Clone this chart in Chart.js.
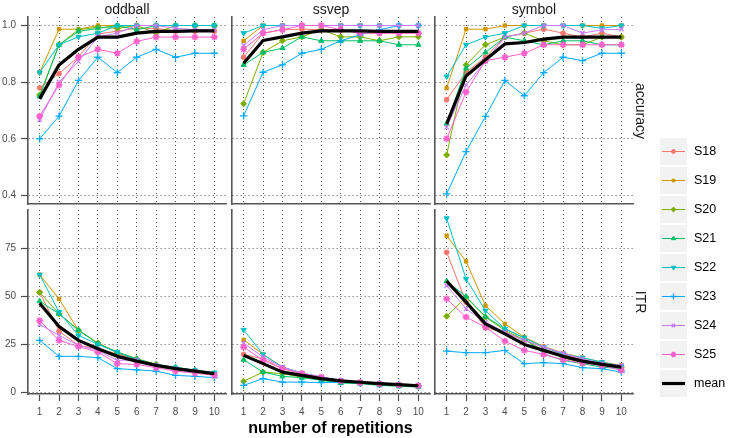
<!DOCTYPE html>
<html><head><meta charset="utf-8">
<script src="https://cdn.jsdelivr.net/npm/chart.js@4"></script>
<style>
body{margin:0;width:745px;height:438px;background:#fff;position:relative;overflow:hidden;font-family:"Liberation Sans",Arial,sans-serif;}
canvas.panel{position:absolute;}
.strip{position:absolute;font-size:14px;color:#1a1a1a;white-space:nowrap;}
.rstrip{position:absolute;font-size:14px;color:#1a1a1a;white-space:nowrap;transform:translate(-50%,-50%) rotate(90deg);}
#xtitle{position:absolute;font-size:16px;font-weight:bold;color:#000;white-space:nowrap;transform:translateX(-50%);}
.lg{position:absolute;width:27px;height:27px;background:#f2f2f2;}
.lgt{position:absolute;font-size:12.5px;color:#000;transform:translateY(-50%);}
</style></head><body>
<script>
// ---------------- data ----------------
const reps = [1,2,3,4,5,6,7,8,9,10];
const xTickLabels = ['1','2','3','4','5','6','7','8','9','10'];
const subjects = ['S18','S19','S20','S21','S22','S23','S24','S25'];
const paradigms = ['oddball','ssvep','symbol'];
const metrics = ['accuracy','ITR'];
const accuracyTicks = [0.4,0.6,0.8,1.0];
const itrTicks = [0,25,50,75];

// accuracy, one row per subject (S18..S25)
const oddballAccuracy = [
  [0.78,0.83,0.89,0.97,0.98,0.99,0.99,0.98,0.98,0.98],
  [0.834,0.987,0.987,1.0,1.0,1.0,1.0,1.0,1.0,1.0],
  [0.755,0.932,0.985,0.994,0.99,1.0,0.973,1.0,1.0,1.0],
  [0.75,0.932,0.979,0.99,1.0,0.985,1.0,1.0,1.0,1.0],
  [0.834,0.932,0.96,0.973,1.0,1.0,1.0,1.0,1.0,1.0],
  [0.60,0.68,0.806,0.888,0.834,0.888,0.916,0.888,0.902,0.902],
  [0.667,0.80,0.873,0.96,0.973,1.0,1.0,0.99,0.985,0.985],
  [0.68,0.79,0.888,0.916,0.902,0.944,0.959,0.959,0.959,0.959]
];
const oddballAccuracyMean = [0.741,0.861,0.916,0.959,0.959,0.973,0.979,0.979,0.981,0.981];

const ssvepAccuracy = [
  [0.888,0.973,0.985,0.987,0.985,0.985,0.973,0.973,0.973,0.973],
  [0.946,1.0,1.0,1.0,1.0,1.0,1.0,1.0,1.0,1.0],
  [0.724,0.905,0.946,0.96,0.985,0.96,0.96,0.946,0.96,0.96],
  [0.861,0.905,0.92,0.96,0.946,0.946,0.946,0.946,0.932,0.932],
  [0.973,1.0,1.0,1.0,1.0,1.0,1.0,1.0,1.0,1.0],
  [0.681,0.835,0.861,0.902,0.916,0.946,0.967,0.985,1.0,1.0],
  [0.93,0.985,1.0,1.0,1.0,1.0,1.0,1.0,1.0,1.0],
  [0.916,0.973,0.985,1.0,1.0,0.985,0.973,0.973,0.973,0.973]
];
const ssvepAccuracyMean = [0.867,0.947,0.96,0.973,0.981,0.981,0.981,0.979,0.979,0.979];

const symbolAccuracy = [
  [0.738,0.835,0.888,0.959,0.973,0.987,0.973,0.959,0.973,0.959],
  [0.779,0.987,0.987,1.0,1.0,1.0,1.0,1.0,1.0,1.0],
  [0.543,0.861,0.932,0.959,0.973,0.946,0.932,0.932,0.959,0.959],
  [0.653,0.849,0.905,0.959,0.946,0.932,0.946,0.946,0.932,0.932],
  [0.82,0.932,0.959,0.973,1.0,1.0,1.0,1.0,0.99,1.0],
  [0.406,0.555,0.679,0.806,0.752,0.834,0.888,0.876,0.902,0.902],
  [0.641,0.79,0.873,0.959,0.973,1.0,1.0,0.973,0.985,0.987],
  [0.60,0.765,0.876,0.888,0.902,0.932,0.932,0.932,0.932,0.932]
];
const symbolAccuracyMean = [0.653,0.822,0.879,0.935,0.94,0.952,0.959,0.959,0.959,0.959];

// ITR, one row per subject (S18..S25)
const oddballITR = [
  [52.2,32.0,24.6,22.8,20.2,17.1,14.7,12.5,11.2,9.9],
  [61.4,48.8,32.4,25.8,21.1,17.6,14.7,12.5,11.2,9.9],
  [52.2,41.0,32.4,25.8,20.6,17.6,14.2,12.5,11.6,10.0],
  [47.6,41.0,32.7,25.4,21.1,17.6,14.7,13.3,11.6,10.0],
  [61.4,41.9,29.8,25.1,21.1,17.1,14.2,13.0,11.6,10.4],
  [27.2,18.9,18.9,18.2,12.5,11.9,11.2,9.0,8.5,7.8],
  [35.5,29.8,24.6,22.0,16.8,17.1,14.2,12.5,11.2,9.5],
  [37.5,27.2,24.0,21.1,15.1,14.7,13.0,11.2,10.2,9.0]
];
const oddballITRMean = [46.5,34.4,27.2,22.8,18.9,16.4,14.2,12.5,11.2,9.9];

const ssvepITR = [
  [19.9,17.6,12.5,9.9,7.8,6.1,5.2,4.5,4.0,3.6],
  [27.5,19.9,13.3,10.2,8.1,6.4,5.5,4.7,4.2,3.8],
  [5.9,10.7,9.9,8.1,7.3,5.5,5.0,4.2,3.8,3.3],
  [17.1,10.7,8.5,7.8,6.4,5.0,4.7,3.8,3.3,2.9],
  [32.7,19.9,13.3,10.2,8.1,6.4,5.5,4.7,4.2,3.8],
  [3.8,7.3,5.5,5.5,5.2,5.5,5.0,4.7,4.2,3.6],
  [25.8,18.5,13.3,10.2,8.1,6.4,5.5,4.7,4.2,3.8],
  [23.7,16.8,12.5,9.9,8.1,6.1,5.2,4.5,4.0,3.6]
];
const ssvepITRMean = [19.4,15.1,10.7,9.0,7.3,6.1,5.4,4.7,4.2,3.6];

const symbolITR = [
  [73.0,47.1,33.7,31.5,27.2,23.7,19.9,17.1,15.1,13.3],
  [81.7,68.3,45.3,35.8,28.9,24.0,20.6,18.2,15.9,14.2],
  [39.8,49.7,39.3,32.4,27.5,22.0,18.2,15.4,14.7,13.3],
  [58.0,50.0,39.6,33.2,28.5,20.2,16.8,15.1,13.3,12.5],
  [90.7,59.2,42.7,33.2,28.5,23.7,20.2,18.2,15.9,13.8],
  [21.6,20.8,20.8,22.0,15.1,15.6,15.1,13.0,12.5,10.7],
  [55.7,43.6,36.7,31.5,27.2,23.7,20.6,17.6,15.1,14.2],
  [48.8,39.3,34.1,26.8,22.0,19.9,17.1,15.4,14.2,11.6]
];
const symbolITRMean = [58.0,47.1,35.8,30.6,25.1,22.0,18.9,16.4,14.7,13.3];

// ---------------- styles ----------------
const colors = ['#F8766D','#CD9600','#7CAE00','#00BE67','#00BFC4','#00A9FF','#C77CFF','#FF61CC'];
const shapes = ['circle','rect','rectRot','triangle','triangle','cross','crossRot','star'];
const rotations = [0,0,0,0,180,0,0,0];
const radii = [2.4,2.4,3.0,3.0,3.0,3.6,3.0,3.4];
const borderW = [1,1,1,1,1,1.3,1.3,1.6];

const colLeft = [28,232,435], colRight = [226,430,633];
const rowTop = [17,210], rowBottom = [204,394];
const M = 14;
const tickFont = {family:'"Liberation Sans", Arial, sans-serif', size:10};
const tickColor = '#4d4d4d';

const panelData = {
  oddball:{accuracy:[oddballAccuracy,oddballAccuracyMean], ITR:[oddballITR,oddballITRMean]},
  ssvep:{accuracy:[ssvepAccuracy,ssvepAccuracyMean], ITR:[ssvepITR,ssvepITRMean]},
  symbol:{accuracy:[symbolAccuracy,symbolAccuracyMean], ITR:[symbolITR,symbolITRMean]}
};

function addDiv(cls, text, css){
  const d=document.createElement('div'); d.className=cls; d.textContent=text;
  Object.assign(d.style, css); document.body.appendChild(d); return d;
}

metrics.forEach((metric,r)=>{
  paradigms.forEach((par,c)=>{
    const [subs, mean] = panelData[par][metric];
    const yAxisW = c===0 ? 28 : 0;
    const xAxisH = r===1 ? 26 : 0;
    const left = colLeft[c]-yAxisW-M;
    const top = rowTop[r]-M;
    const width = M + yAxisW + (colRight[c]-colLeft[c]) + M;
    const height = M + (rowBottom[r]-rowTop[r]) + xAxisH + M;
    const cv=document.createElement('canvas');
    cv.className='panel';
    cv.style.left=left+'px'; cv.style.top=top+'px';
    cv.style.width=width+'px'; cv.style.height=height+'px';
    cv.width=width; cv.height=height;
    document.body.appendChild(cv);

    const datasets = subjects.map((s,i)=>({
      label:s,
      data: reps.map((x,j)=>({x:x,y:subs[i][j]})),
      borderColor:colors[i], backgroundColor:colors[i],
      borderWidth:1, pointStyle:shapes[i], pointRadius:radii[i],
      pointRotation:rotations[i], pointBorderWidth:borderW[i],
      pointBorderColor:colors[i], pointBackgroundColor:colors[i],
      order: 8-i, tension:0
    }));
    datasets.push({label:'mean', data: reps.map((x,j)=>({x:x,y:mean[j]})),
      borderColor:'#000', borderWidth:3.2, pointRadius:0, order:-1, tension:0,
      borderJoinStyle:'round', borderCapStyle:'butt'});

    const isAcc = r===0;
    const yTicks = isAcc ? accuracyTicks : itrTicks;
    new Chart(cv,{
      type:'line',
      data:{datasets},
      options:{
        responsive:false, animation:false, devicePixelRatio:1,
        layout:{padding:{left:M,right:M,top:M,bottom:M}},
        plugins:{legend:{display:false}, tooltip:{enabled:false}},
        scales:{
          x:{type:'linear', min:0.4, max:10.6,
            afterBuildTicks:s=>{s.ticks = reps.map(v=>({value:v}));},
            afterFit:s=>{s.height = xAxisH;},
            ticks:{display:r===1, font:tickFont, color:tickColor, padding:5, maxRotation:0, autoSkip:false,
              callback:(v)=>xTickLabels[reps.indexOf(v)]},
            grid:{color:'rgba(0,0,0,0.85)', lineWidth:0.8, drawTicks:r===1, tickLength:7,
              tickColor:'#4d4d4d', tickWidth:1.2, tickBorderDash:[]},
            border:{display:true, color:'#555', width:1.6, dash:[1,3]}
          },
          y:{type:'linear', min: isAcc?0.37:-0.7, max: isAcc?1.03:95.05,
            afterBuildTicks:s=>{s.ticks = yTicks.map(v=>({value:v}));},
            afterFit:s=>{s.width = yAxisW;},
            ticks:{display:c===0, font:tickFont, color:tickColor, padding:5,
              callback:(v)=> isAcc ? v.toFixed(1) : String(v)},
            grid:{color:'rgba(0,0,0,0.85)', lineWidth:0.8, drawTicks:c===0, tickLength:7,
              tickColor:'#4d4d4d', tickWidth:1.2, tickBorderDash:[]},
            border:{display:true, color:'#555', width:1.6, dash:[1,3]}
          }
        }
      }
    });
  });
});

// strip labels
paradigms.forEach((p,c)=>{
  const d=addDiv('strip',p,{top:'1px'});
  d.style.left=((colLeft[c]+colRight[c])/2)+'px';
  d.style.transform='translateX(-50%)';
});
metrics.forEach((m,r)=>{
  addDiv('rstrip',m,{left:'641px', top:((rowTop[r]+rowBottom[r])/2)+'px'});
});
addDiv('','number of repetitions',{}).id='xtitle';
const xt=document.getElementById('xtitle');
xt.style.left=((colLeft[0]+colRight[2])/2)+'px'; xt.style.top='419px';

// legend
const legendTop = 151, legendStep = 29, legendBoxX = 660, legendTextX = 694;
const legendLabels = subjects.concat(['mean']);
legendLabels.forEach((lab,i)=>{
  const cy = legendTop + i*legendStep;
  const box = addDiv('lg','',{top:(cy-13.5)+'px', left:legendBoxX+'px'});
  const kc=document.createElement('canvas'); kc.width=27; kc.height=27;
  kc.style.position='absolute'; kc.style.left='0'; kc.style.top='0';
  box.appendChild(kc);
  const g=kc.getContext('2d');
  if(lab==='mean'){
    g.strokeStyle='#000'; g.lineWidth=3.2; g.beginPath(); g.moveTo(2,13.5); g.lineTo(25,13.5); g.stroke();
  } else {
    g.strokeStyle=colors[i]; g.lineWidth=1; g.beginPath(); g.moveTo(2,13.5); g.lineTo(25,13.5); g.stroke();
    g.fillStyle=colors[i]; g.lineWidth=borderW[i];
    Chart.helpers.drawPoint(g,{pointStyle:shapes[i], radius:radii[i]*0.8, rotation:rotations[i], borderWidth:borderW[i]},13.5,13.5);
  }
  addDiv('lgt',lab,{top:cy+'px', left:legendTextX+'px'});
});
</script>
</body></html>
